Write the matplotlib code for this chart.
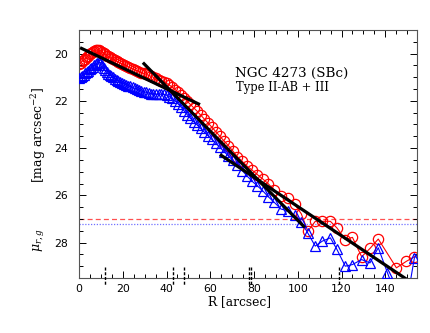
import matplotlib
matplotlib.use("Agg")
import matplotlib.pyplot as plt
from matplotlib.ticker import MultipleLocator

# ---------------- data ----------------
R_common = [0, 0.7, 1.4, 2.1, 2.8, 3.5, 4.2, 4.9, 5.6, 6.3,
            7.0, 7.7, 8.4, 9.1, 9.8, 10.5, 11.2, 11.9, 12.6, 13.3,
            14.0, 14.8, 15.6, 16.4, 17.2, 18.0, 18.9, 19.8, 20.7, 21.6,
            22.5, 23.5, 24.5, 25.5, 26.5, 27.5, 28.5, 29.6, 30.7, 31.8,
            32.9, 34.0, 35.2, 36.4, 37.6, 38.8, 40.0, 41.3, 42.6, 43.9,
            45.2, 46.6, 48.0, 49.4, 50.9, 52.4, 54.0, 55.6, 57.2, 58.9,
            60.7, 62.5, 64.4, 66.3, 68.3, 70.3, 72.4, 74.6, 76.8, 79.1,
            81.5, 83.9, 86.4, 89.3, 92.3, 95.4, 98.6, 101.6, 104.6, 108.0,
            111.2, 114.9, 117.9, 121.7, 125.0, 129.2, 133.0, 136.8]
R_red_outer = [145.1, 149.7, 153.3, 157.5]
R_blue_outer = [141.0, 145.1, 149.7, 153.3, 157.5]

mu_red = [20.42, 20.38, 20.33, 20.28, 20.22, 20.16, 20.10, 20.03, 19.97, 19.92,
          19.88, 19.86, 19.85, 19.86, 19.88, 19.92, 19.97, 20.03, 20.08, 20.12,
          20.16, 20.20, 20.24, 20.28, 20.32, 20.36, 20.40, 20.44, 20.48, 20.52,
          20.56, 20.60, 20.64, 20.68, 20.72, 20.76, 20.80, 20.84, 20.88, 20.92,
          20.96, 21.00, 21.05, 21.10, 21.15, 21.20, 21.26, 21.33, 21.42, 21.52,
          21.63, 21.75, 21.88, 22.01, 22.15, 22.29, 22.44, 22.60, 22.76, 22.93,
          23.11, 23.30, 23.50, 23.70, 23.90, 24.12, 24.36, 24.56, 24.76, 24.93,
          25.12, 25.30, 25.50, 25.78, 26.02, 26.12, 26.38, 26.78, 27.52, 27.10,
          27.10, 27.10, 27.38, 27.87, 27.78, 28.60, 28.25, 27.85,
          29.07, 28.79, 28.60, 28.35]

mu_blue = [21.05, 21.00, 20.95, 20.90, 20.84, 20.79, 20.73, 20.67, 20.61, 20.55,
           20.50, 20.45, 20.40, 20.36, 20.38, 20.48, 20.60, 20.70, 20.78, 20.85,
           20.90, 20.96, 21.01, 21.06, 21.10, 21.14, 21.19, 21.23, 21.27, 21.31,
           21.35, 21.39, 21.43, 21.47, 21.51, 21.55, 21.58, 21.61, 21.64, 21.67,
           21.69, 21.71, 21.72, 21.72, 21.72, 21.73, 21.76, 21.82, 21.90, 22.00,
           22.12, 22.26, 22.42, 22.58, 22.74, 22.88, 23.02, 23.17, 23.32, 23.47,
           23.63, 23.80, 23.97, 24.15, 24.33, 24.52, 24.72, 24.95, 25.18, 25.40,
           25.60, 25.80, 26.05, 26.30, 26.58, 26.65, 26.85, 27.12, 27.60, 28.15,
           27.94, 27.80, 28.29, 29.00, 28.93, 28.72, 28.86, 28.22,
           29.28, 30.30, 30.60, 28.65, 28.20]

R_red = R_common + R_red_outer
R_blue = R_common + R_blue_outer

# fitted segments (R start, R end, mu start, mu end)
fit_inner = ([0.5, 55.3], [19.75, 22.16])
fit_mid = ([29.2, 103.2], [20.38, 27.36])
fit_outer = ([64.4, 150.5], [24.27, 29.6])

# sky limits
sky_red = 27.02
sky_blue = 27.22

# break / feature markers along the bottom
break_R = [12.0, 42.8, 48.0, 77.8, 78.5, 119.0]

title_text = "NGC 4273 (SBc)"
type_text = "Type II-AB + III"

# ---------------- plot ----------------
plt.rcParams['mathtext.fontset'] = 'dejavuserif'
fig = plt.figure(figsize=(4.30, 3.33), dpi=100)
ax = fig.add_axes([79/430, 55/333, 338/430, 248/333])

ax.plot(R_red, mu_red, '-', color='#ff0000', lw=0.8, marker='o', ms=7.4,
        mfc='none', mec='#ff0000', mew=0.9, zorder=2)
ax.plot(R_blue, mu_blue, '-', color='#0000ff', lw=0.8, marker='^', ms=7.0,
        mfc='none', mec='#0000ff', mew=0.9, zorder=3)

for seg in (fit_inner, fit_mid, fit_outer):
    ax.plot(seg[0], seg[1], '-', color='black', lw=2.3, zorder=4,
            solid_capstyle='butt')

ax.axhline(sky_red, color='#ff5050', lw=0.9, ls=(0, (4, 2.5)), zorder=1)
ax.axhline(sky_blue, color='#7070ff', lw=0.9, ls=(0, (1, 1.3)), zorder=1)

for rb in break_R:
    ax.plot([rb, rb], [29.02, 29.8], color='black', lw=1.0,
            ls=(0, (2.2, 1.2)), clip_on=False, zorder=5)

ax.set_xlim(0, 154.5)
ax.set_ylim(29.5, 19.0)

ax.xaxis.set_major_locator(MultipleLocator(20))
ax.xaxis.set_minor_locator(MultipleLocator(5))
ax.yaxis.set_major_locator(MultipleLocator(2))
ax.yaxis.set_minor_locator(MultipleLocator(0.5))
ax.tick_params(which='both', direction='in', top=True, right=True,
               width=0.7, colors='black', labelsize=7.8)
ax.tick_params(which='major', length=5)
ax.tick_params(which='minor', length=2.8)
ax.tick_params(axis='x', pad=4)
ax.tick_params(axis='y', pad=8)
for sp in ax.spines.values():
    sp.set_linewidth(0.8)
    sp.set_color('#555555')

fig.text(240/430, 1 - 302/333, "R [arcsec]", ha='center', va='center',
         family='DejaVu Serif', fontsize=8.8)
fig.text(39/430, 1 - 240/333, r"$\mu_{r,g}$",
         ha='center', va='center', rotation=90, fontsize=9)
fig.text(39/430, 1 - 135/333, r"[mag arcsec$^{-2}$]",
         ha='center', va='center', rotation=90, family='DejaVu Serif',
         fontsize=9)

fig.text(235/430, 1 - 73/333, title_text, ha='left', va='center',
         family='DejaVu Serif', fontsize=9.7)
fig.text(236/430, 1 - 87/333, type_text, ha='left', va='center',
         family='DejaVu Serif', fontsize=8.3)

fig.savefig("out.png", dpi=100)
